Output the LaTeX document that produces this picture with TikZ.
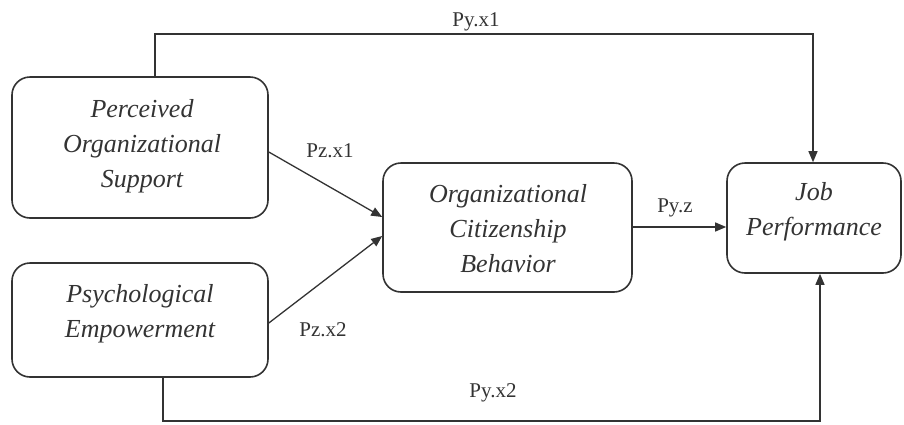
\documentclass[tikz,border=0pt]{standalone}
\usepackage{fontspec}
\setmainfont{Liberation Serif}
\usetikzlibrary{arrows.meta,calc}
\definecolor{ink}{HTML}{333333}
\begin{document}
\begin{tikzpicture}[x=1pt,y=-1pt,
  box/.style={draw=ink,line width=1.6pt,rounded corners=18pt,inner sep=0pt},
  boxtext/.style={text=ink,align=center,font=\fontsize{26}{35}\selectfont\itshape},
  plabel/.style={text=ink,font=\fontsize{21}{24}\selectfont,inner sep=1pt},
  conn/.style={draw=ink,line width=1.3pt},
  arr/.style={conn,-{Triangle[length=11pt,width=9pt]}}]
\useasboundingbox (0,0) rectangle (904,424);
% boxes
\node[box,minimum width=256pt,minimum height=141pt] (b1) at (140,147.5) {};
\node[box,minimum width=256pt,minimum height=114pt] (b2) at (140,320) {};
\node[box,minimum width=249pt,minimum height=129pt] (b3) at (507.5,227.5) {};
\node[box,minimum width=174pt,minimum height=110pt] (b4) at (814,218) {};
% box texts
\node[boxtext] (t1) at (142,146) {Perceived\\Organizational\\Support};
\node[boxtext] (t2) at (140,314) {Psychological\\Empowerment};
\node[boxtext] (t3) at (508,229) {Organizational\\Citizenship\\Behavior};
\node[boxtext] (t4) at (814,212) {Job\\Performance};
% helper coordinates
\coordinate (u1) at (155,34);
\coordinate (u2) at (813,34);
\coordinate (d1) at (163,421);
\coordinate (d2) at (820,421);
\coordinate (a1) at (268,152);
\coordinate (a2) at (268,323);
\coordinate (m1) at (383,217);
\coordinate (m2) at (383,236);
\coordinate (z1) at (632,227);
% connectors
\draw[arr] (b1.north -| u1) -- (u1) -- (u2) -- (b4.north -| u2);
\draw[arr] (b2.south -| d1) -- (d1) -- (d2) -- (b4.south -| d2);
\draw[arr] (b1.east |- a1) -- (b3.west |- m1);
\draw[arr] (b2.east |- a2) -- (b3.west |- m2);
\draw[arr] (b3.east |- z1) -- (b4.west |- z1);
% labels
\node[plabel] (l1) at (476,22) {Py.x1};
\node[plabel] (l2) at (493,393) {Py.x2};
\node[plabel] (l3) at (330,151) {Pz.x1};
\node[plabel] (l4) at (323,330) {Pz.x2};
\node[plabel] (l5) at (675,208) {Py.z};
\end{tikzpicture}
\end{document}
